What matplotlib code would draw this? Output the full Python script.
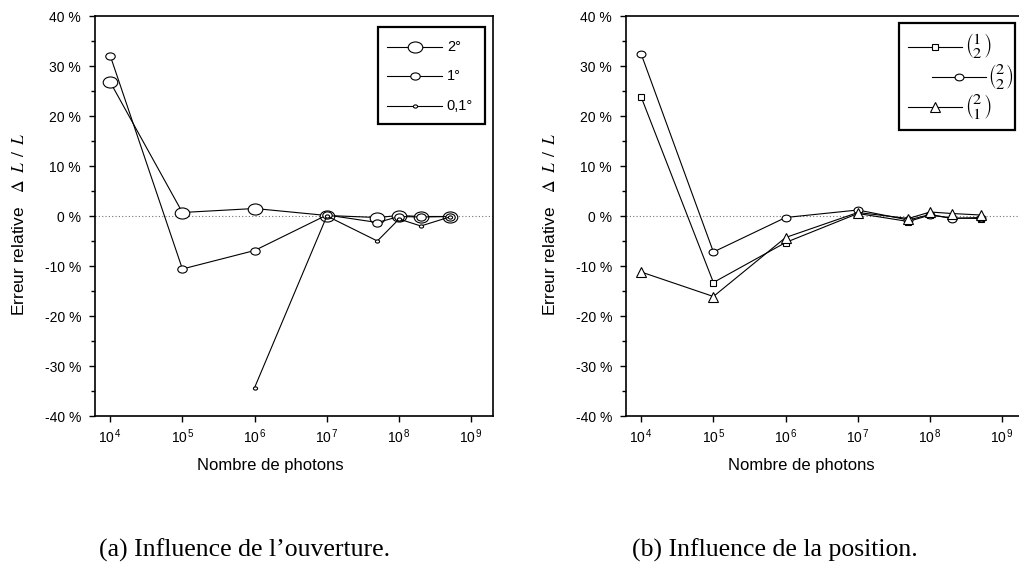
import numpy as np
import matplotlib
matplotlib.use("Agg")
import matplotlib.pyplot as plt
from matplotlib.path import Path
from matplotlib.transforms import Affine2D
from matplotlib.lines import Line2D
from matplotlib.patches import Rectangle

plt.rcParams['font.family'] = ['Liberation Sans', 'DejaVu Sans']
plt.rcParams['mathtext.fontset'] = 'stix'

# donnees (erreur relative en %)
photons = [1e4, 1e5, 1e6, 1e7, 5e7, 1e8, 2e8, 5e8]
photons_01 = [1e6, 1e7, 5e7, 1e8, 2e8, 5e8]

err_2deg = [26.8, 0.7, 1.5, 0.1, -0.3, 0.1, -0.1, -0.1]
err_1deg = [32.1, -10.6, -6.9, 0.2, -1.3, -0.1, -0.2, -0.1]
err_01deg = [-34.3, 0.0, -5.0, -0.6, -2.0, -0.2]

err_12 = [23.8, -13.3, -5.3, 0.5, -1.1, 0.2, -0.4, -0.5]
err_22 = [32.4, -7.2, -0.3, 1.2, -0.8, 0.3, -0.5, -0.3]
err_21 = [-11.2, -16.1, -4.3, 0.7, -0.5, 0.8, 0.5, 0.2]

labels_a = ["2°", "1°", "0,1°"]
labels_b = [r"$\genfrac{(}{)}{0}{0}{1}{2}$", r"$\genfrac{(}{)}{0}{0}{2}{2}$",
            r"$\genfrac{(}{)}{0}{0}{2}{1}$"]

yticks = [-40, -30, -20, -10, 0, 10, 20, 30, 40]
xticks = [1e4, 1e5, 1e6, 1e7, 1e8, 1e9]

# marqueur ellipse (plus large que haut)
ellipse = Path.unit_circle().transformed(Affine2D().scale(1, 0.76))

lw = 0.8
style = dict(color='black', lw=lw, mfc='white', mec='black', mew=lw)

fig = plt.figure(figsize=(10.19, 5.63), dpi=100)
ax1 = fig.add_axes([95 / 1019, 1 - 416 / 563, 398 / 1019, 400 / 563])
ax2 = fig.add_axes([626 / 1019, 1 - 416 / 563, 398 / 1019, 400 / 563])


def mise_en_forme(ax):
    ax.set_xscale('log')
    ax.set_xlim(10 ** 3.79, 10 ** 9.30)
    ax.set_ylim(-40, 40)
    ax.axhline(0, color='0.45', lw=0.8, ls=(0, (1, 2)), zorder=1)
    ax.set_yticks(yticks)
    ax.set_yticklabels(["%d %%" % v for v in yticks])
    ax.set_yticks(np.arange(-35, 40, 10), minor=True)
    ax.set_xticks(xticks)
    ax.set_xticklabels([r"$\mathregular{10^{\,%d}}$" % int(np.log10(v)) for v in xticks])
    ax.xaxis.set_minor_locator(matplotlib.ticker.NullLocator())
    ax.tick_params(axis='both', which='major', direction='out', length=4,
                   width=1, labelsize=10, top=False, right=False)
    ax.tick_params(axis='y', which='major', pad=6)
    ax.tick_params(axis='x', which='major', pad=4)
    ax.tick_params(axis='y', which='minor', direction='out', length=3, width=1)
    for s in ax.spines.values():
        s.set_linewidth(1.2)
    ax.set_xlabel("Nombre de photons", fontsize=12, labelpad=6)
    ax.xaxis.set_label_coords(0.44, -0.105)
    ax.set_ylabel(r"Erreur relative   $\Delta\;\;L\;\;/\;\;L$", fontsize=12.5)
    ax.yaxis.set_label_coords(-0.17, 0.48)


def legende(ax, box, rows, labelsize):
    x0, x1, y0, y1 = box
    ax.add_patch(Rectangle((x0, y0), x1 - x0, y1 - y0, transform=ax.transAxes,
                           fill=True, fc='white', ec='black', lw=1.6, zorder=5))
    for (lx0, lx1, mx, tx, y, mk, ms, lab) in rows:
        ax.add_line(Line2D([lx0, lx1], [y, y], transform=ax.transAxes,
                           color='black', lw=lw, zorder=6))
        ax.add_line(Line2D([mx], [y], transform=ax.transAxes, marker=mk, ms=ms,
                           mfc='white', mec='black', mew=lw, zorder=7))
        ax.text(tx, y, lab, transform=ax.transAxes, va='center', ha='left',
                fontsize=labelsize, zorder=7)


# (a) influence de l'ouverture
mise_en_forme(ax1)
ax1.plot(photons, err_2deg, marker=ellipse, ms=10.5, zorder=3, **style)
ax1.plot(photons, err_1deg, marker=ellipse, ms=6.8, zorder=4, **style)
ax1.plot(photons_01, err_01deg, marker=ellipse, ms=3.0, zorder=5, **style)
legende(ax1, (0.711, 0.980, 0.730, 0.9725), [
    (0.733, 0.873, 0.803, 0.884, 0.923, ellipse, 10.5, labels_a[0]),
    (0.733, 0.873, 0.803, 0.884, 0.850, ellipse, 6.8, labels_a[1]),
    (0.733, 0.873, 0.803, 0.884, 0.775, ellipse, 3.0, labels_a[2]),
], 10.5)

# (b) influence de la position
mise_en_forme(ax2)
ax2.plot(photons, err_12, marker='s', ms=5.0, zorder=3, **style)
ax2.plot(photons, err_22, marker=ellipse, ms=6.4, zorder=4, **style)
ax2.plot(photons, err_21, marker='^', ms=7.0, zorder=5, **style)
legende(ax2, (0.686, 0.977, 0.715, 0.9825), [
    (0.708, 0.845, 0.776, 0.852, 0.923, 's', 5.0, labels_b[0]),
    (0.768, 0.905, 0.836, 0.910, 0.8475, ellipse, 6.4, labels_b[1]),
    (0.708, 0.845, 0.776, 0.852, 0.7725, '^', 7.0, labels_b[2]),
], 11.8)

fig.text(245 / 1019, 1 - 550 / 563, "(a) Influence de l’ouverture.", ha='center',
         va='center', fontsize=18.5, family='Liberation Serif')
fig.text(775 / 1019, 1 - 550 / 563, "(b) Influence de la position.", ha='center',
         va='center', fontsize=18.5, family='Liberation Serif')

fig.savefig("out.png", dpi=100)
